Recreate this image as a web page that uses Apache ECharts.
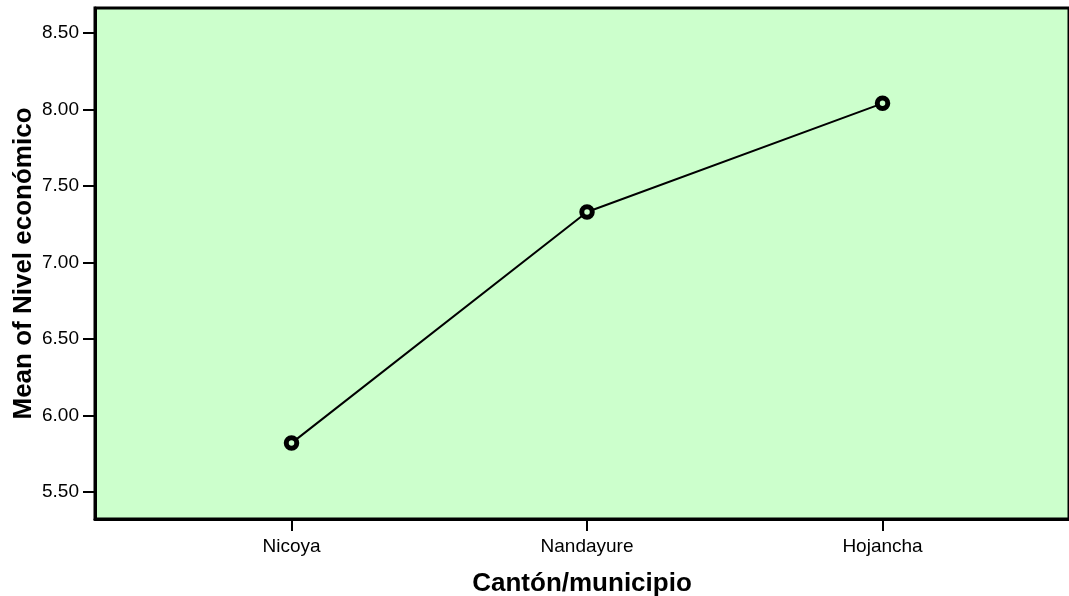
<!DOCTYPE html>
<html><head><meta charset="utf-8">
<script src="https://cdn.jsdelivr.net/npm/echarts@6/dist/echarts.min.js"></script>
<style>html,body{margin:0;padding:0;background:#fff}#c{width:1069px;height:596px}</style>
</head><body><div id="c"></div>
<script>
const categories = ["Nicoya", "Nandayure", "Hojancha"];
const meanValues = [5.82, 7.33, 8.04];
const yTicks = [5.5, 6.0, 6.5, 7.0, 7.5, 8.0, 8.5];

const chart = echarts.init(document.getElementById('c'));
const catIdx = categories.map((_, i) => i);
chart.setOption({
  animation: false,
  grid: {left: 95, right: 0, top: 8, bottom: 77, containLabel: false, outerBoundsMode: 'none',
    show: true, backgroundColor: '#ccffcc', borderColor: '#000', borderWidth: 3},
  xAxis: {
    type: 'value', min: -0.665, max: 2.631,
    name: 'Cantón/municipio', nameLocation: 'middle', nameGap: 52,
    nameTextStyle: {fontFamily: 'Liberation Sans', fontWeight: 'bold', fontSize: 26, color: '#000'},
    splitLine: {show: false},
    axisLine: {show: true, onZero: false, lineStyle: {color: '#000', width: 3}},
    axisTick: {show: true, length: 12, lineStyle: {color: '#000', width: 2}, customValues: catIdx},
    axisLabel: {customValues: catIdx, formatter: v => categories[Math.round(v)] || '', margin: 18,
      fontFamily: 'Liberation Sans', fontSize: 19, color: '#000'}
  },
  yAxis: {
    type: 'value', min: 5.324, max: 8.663,
    name: 'Mean of Nivel económico', nameLocation: 'middle', nameGap: 58, nameRotate: 90,
    nameMoveOverlap: false,
    nameTextStyle: {fontFamily: 'Liberation Sans', fontWeight: 'bold', fontSize: 26, color: '#000'},
    splitLine: {show: false},
    axisLine: {show: true, onZero: false, lineStyle: {color: '#000', width: 3}},
    axisTick: {show: true, length: 12, lineStyle: {color: '#000', width: 2}, customValues: yTicks},
    axisLabel: {customValues: yTicks, formatter: v => v.toFixed(2), margin: 16,
      fontFamily: 'Liberation Sans', fontSize: 19, color: '#000'}
  },
  series: [{
    type: 'line',
    data: meanValues.map((v, i) => [i, v]),
    lineStyle: {color: '#000', width: 2},
    symbol: 'circle', symbolSize: 10.5,
    itemStyle: {color: '#ccffcc', borderColor: '#000', borderWidth: 5}
  }]
});
</script></body></html>
